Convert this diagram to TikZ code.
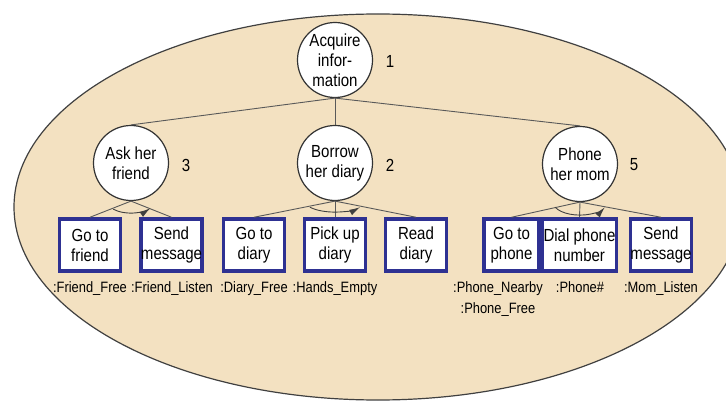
\documentclass[tikz,border=0pt]{standalone}
\usepackage{fontspec}
\setmainfont{Liberation Sans}[FakeStretch=0.86]
\usetikzlibrary{arrows.meta}
\definecolor{sand}{RGB}{243,225,193}
\definecolor{navy}{RGB}{46,49,146}

\begin{document}
\begin{tikzpicture}[x=1pt,y=1pt,
  goal/.style={circle,draw=black!80,line width=1.2pt,fill=white,minimum size=75pt,
    inner sep=0pt,align=center,font=\fontsize{17.5}{20}\selectfont},
  act/.style={rectangle,draw=navy,line width=3.5pt,fill=white,minimum width=61pt,
    minimum height=52pt,inner sep=0pt,align=center,font=\fontsize{17.5}{20}\selectfont},
  cond/.style={font=\fontsize{15}{21}\selectfont,align=center,inner sep=0pt,anchor=north},
  num/.style={font=\fontsize{17.5}{20}\selectfont},
  link/.style={draw=black!65,line width=0.9pt},
  order/.style={draw=black!75,line width=0.9pt,-{Latex[length=11pt,width=6pt]}}]

  \useasboundingbox (0,0) rectangle (726,-401);
  \begin{scope}
    \clip (0,0) rectangle (726,-401);
    \draw[fill=sand,draw=black!75,line width=1.2pt]
      (378,-207) ellipse[x radius=364,y radius=193];
  \end{scope}

  % goals
  \node[goal] (acquire) at (335,-60) {Acquire\\infor-\\mation};
  \node[goal] (askfriend) at (131,-163) {Ask her\\friend};
  \node[goal] (borrow) at (335,-163) {Borrow\\her diary};
  \node[goal] (phonemom) at (580,-164) {Phone\\her mom};

  \node[num] (n1) at (390,-61) {1};
  \node[num] (n3) at (186,-165) {3};
  \node[num] (n2) at (390,-165) {2};
  \node[num] (n5) at (634,-165) {5};

  % actions
  \node[act] (gofriend) at (90,-245) {Go to\\friend};
  \node[act] (sendfriend) at (171.5,-245) {Send\\message};
  \node[act] (godiary) at (254,-245) {Go to\\diary};
  \node[act] (pickup) at (335,-245) {Pick up\\diary};
  \node[act] (readdiary) at (416,-245) {Read\\diary};
  \node[act,minimum width=55pt] (gophone) at (511.5,-245) {Go to\\phone};
  \node[act,minimum width=74pt] (dialphone) at (579.5,-245) {Dial phone\\number};
  \node[act] (sendmom) at (661,-245) {Send\\message};

  % preconditions
  \node[cond] (friendfree) at (90,-281) {:Friend\_Free};
  \node[cond] (friendlisten) at (172,-281) {:Friend\_Listen};
  \node[cond] (diaryfree) at (254,-281) {:Diary\_Free};
  \node[cond] (handsempty) at (335,-281) {:Hands\_Empty};
  \node[cond] (phonenearby) at (498,-281) {:Phone\_Nearby\\:Phone\_Free};
  \node[cond] (phonenum) at (580,-281) {:Phone\#};
  \node[cond] (momlisten) at (661,-281) {:Mom\_Listen};

  \draw[link] (acquire.south) -- (askfriend.north);
  \draw[link] (acquire.south) -- (borrow.north);
  \draw[link] (acquire.south) -- (phonemom.north);

  \draw[link] (askfriend.south) -- (gofriend.north);
  \draw[link] (askfriend.south) -- (sendfriend.north);
  \draw[link] (borrow.south) -- (godiary.north);
  \draw[link] (borrow.south) -- (pickup.north);
  \draw[link] (borrow.south) -- (readdiary.north);
  \draw[link] (phonemom.south) -- (gophone.north);
  \draw[link] (phonemom.south) -- (dialphone.north);
  \draw[link] (phonemom.south) -- (sendmom.north);

  \draw[order] ([shift={(222:24pt and 12pt)}]askfriend.south)
    arc[start angle=222,end angle=324,x radius=24,y radius=12];
  \draw[order] ([shift={(213:30pt and 11pt)}]borrow.south)
    arc[start angle=213,end angle=327,x radius=30,y radius=11];
  \draw[order] ([shift={(203:27pt and 13pt)}]phonemom.south)
    arc[start angle=203,end angle=337,x radius=27,y radius=13];
\end{tikzpicture}
\end{document}
